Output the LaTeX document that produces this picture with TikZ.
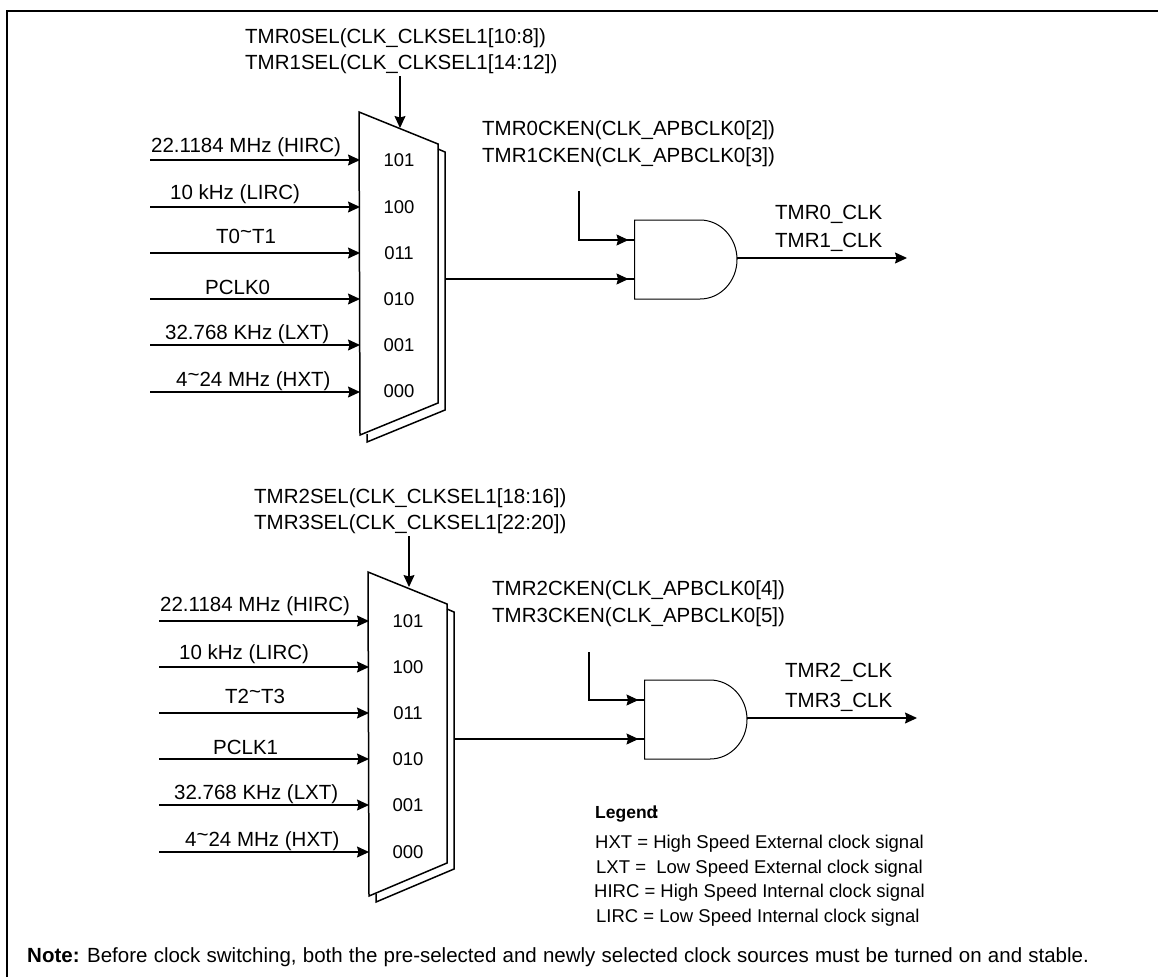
\documentclass[tikz,border=0pt]{standalone}
\usepackage{fontspec}
\setmainfont{Liberation Sans}
\usetikzlibrary{arrows.meta}
\newcommand{\tld}{\raisebox{0.22em}{\textasciitilde}}

\begin{document}
\begin{tikzpicture}[x=1pt,y=-1pt,
    lbl/.style={anchor=base west,inner sep=0pt,font=\fontsize{20.5}{24}\selectfont},
    sellbl/.style={inner sep=0pt,font=\fontsize{18.5}{22}\selectfont},
    leg/.style={anchor=base west,inner sep=0pt,font=\fontsize{18.5}{22}\selectfont},
    sig/.style={line width=1.1pt,-{Stealth[length=12pt,width=11pt,inset=1.5pt]}},
    gin/.style={line width=1.1pt,-{Stealth[length=12pt,width=11pt,inset=1.5pt,sep=0pt]Rectangle[length=6pt,width=1.1pt,sep=0pt]}},
    muxline/.style={line width=1.5pt,line join=miter},
    gateline/.style={line width=1pt}]
    \useasboundingbox (0,0) rectangle (1158,977);

    % frame
    \coordinate (fa) at (7,977);
    \coordinate (fb) at (7,11);
    \coordinate (fc) at (1158,11);
    \draw[line width=2pt] (fa) -- (fb) -- (fc);

    % first mux
    \draw[muxline] (438,149) -- (445,152) -- (445,410) -- (367,442) -- (367,434);
    \draw[muxline] (359,112) -- (438,144) -- (438,403) -- (360,435) -- cycle;
    \foreach \n/\y/\lx/\ly/\txt in {a/160/151/152/{22.1184 MHz (HIRC)},b/207/170/199/{10 kHz (LIRC)},
        c/253/216/243/{T0\tld T1},d/299/205/294/{PCLK0},
        e/345/165/339/{32.768 KHz (LXT)},f/392/176/386/{4\tld 24 MHz (HXT)}} {
        \coordinate (src0\n) at (150,\y);
        \coordinate (mux0\n) at (360,\y);
        \draw[sig] (src0\n) -- (mux0\n);
        \node[lbl] (txt0\n) at (\lx,\ly) {\txt};
    }
    \foreach \n/\y/\code in {a/160/101,b/207/100,c/253/011,d/299/010,e/345/001,f/391/000}
        \node[sellbl] (code0\n) at (399,\y) {\code};

    \node[lbl] (sel0a) at (245,43) {TMR0SEL(CLK\_CLKSEL1[10:8])};
    \node[lbl] (sel0b) at (245,69) {TMR1SEL(CLK\_CLKSEL1[14:12])};
    \coordinate (sel0from) at (400,76);
    \coordinate (sel0to) at (400,128);
    \draw[sig] (sel0from) -- (sel0to);

    % first gate
    \coordinate (mux0out) at (445,279);
    \coordinate (and0b) at (634.5,279);
    \coordinate (en0from) at (579,191);
    \coordinate (en0bend) at (579,240);
    \coordinate (and0a) at (634.5,240);
    \coordinate (and0out) at (737,258);
    \coordinate (clk0) at (907,258);
    \draw[gateline] (634.5,220) -- (700,220) arc[start angle=-90,end angle=90,x radius=37,y radius=39.5] -- (634.5,299) -- cycle;
    \draw[gin] (mux0out) -- (and0b);
    \draw[gin] (en0from) -- (en0bend) -- (and0a);
    \draw[sig] (and0out) -- (clk0);
    \node[lbl] (en0a) at (482,135) {TMR0CKEN(CLK\_APBCLK0[2])};
    \node[lbl] (en0b) at (482,162) {TMR1CKEN(CLK\_APBCLK0[3])};
    \node[lbl] (out0a) at (775,219) {TMR0\_CLK};
    \node[lbl] (out0b) at (775,247) {TMR1\_CLK};

    % second mux
    \draw[muxline] (447,609) -- (454,612) -- (454,869) -- (376,902) -- (376,894);
    \draw[muxline] (368,572) -- (447,604) -- (447,863) -- (369,896) -- cycle;
    \foreach \n/\y/\lx/\ly/\txt in {a/621/160/611/{22.1184 MHz (HIRC)},b/667/179/659/{10 kHz (LIRC)},
        c/713/225/703/{T2\tld T3},d/759/213/754/{PCLK1},
        e/805/174/799/{32.768 KHz (LXT)},f/852/185/846/{4\tld 24 MHz (HXT)}} {
        \coordinate (src1\n) at (159,\y);
        \coordinate (mux1\n) at (369,\y);
        \draw[sig] (src1\n) -- (mux1\n);
        \node[lbl] (txt1\n) at (\lx,\ly) {\txt};
    }
    \foreach \n/\y/\code in {a/621/101,b/667/100,c/713/011,d/759/010,e/805/001,f/852/000}
        \node[sellbl] (code1\n) at (408,\y) {\code};

    \node[lbl] (sel1a) at (254,503) {TMR2SEL(CLK\_CLKSEL1[18:16])};
    \node[lbl] (sel1b) at (254,529) {TMR3SEL(CLK\_CLKSEL1[22:20])};
    \coordinate (sel1from) at (409,536);
    \coordinate (sel1to) at (409,587);
    \draw[sig] (sel1from) -- (sel1to);

    % second gate
    \coordinate (mux1out) at (454,739);
    \coordinate (and1b) at (644.5,739);
    \coordinate (en1from) at (589,652);
    \coordinate (en1bend) at (589,700);
    \coordinate (and1a) at (644.5,700);
    \coordinate (and1out) at (747,718);
    \coordinate (clk1) at (917,718);
    \draw[gateline] (644.5,680) -- (710,680) arc[start angle=-90,end angle=90,x radius=37,y radius=39.5] -- (644.5,759) -- cycle;
    \draw[gin] (mux1out) -- (and1b);
    \draw[gin] (en1from) -- (en1bend) -- (and1a);
    \draw[sig] (and1out) -- (clk1);
    \node[lbl] (en1a) at (492,595) {TMR2CKEN(CLK\_APBCLK0[4])};
    \node[lbl] (en1b) at (492,622) {TMR3CKEN(CLK\_APBCLK0[5])};
    \node[lbl] (out1a) at (785,677) {TMR2\_CLK};
    \node[lbl] (out1b) at (785,707) {TMR3\_CLK};

    % legend
    \node[leg] (legend) at (595,818) {\fontsize{17.5}{20}\selectfont\bfseries Legend\kern-4pt:};
    \node[leg] (hxt) at (595,848) {HXT = High Speed External clock signal};
    \node[leg] (lxt) at (596,873) {LXT =\ \ Low Speed External clock signal};
    \node[leg] (hirc) at (594,897) {HIRC = High Speed Internal clock signal};
    \node[leg] (lirc) at (596,922) {LIRC = Low Speed Internal clock signal};
    \node[lbl] (note) at (27,962) {\textbf{Note:} \spaceskip=6.2pt Before clock switching, both the pre-selected and newly selected clock sources must be turned on and stable.};
\end{tikzpicture}
\end{document}
